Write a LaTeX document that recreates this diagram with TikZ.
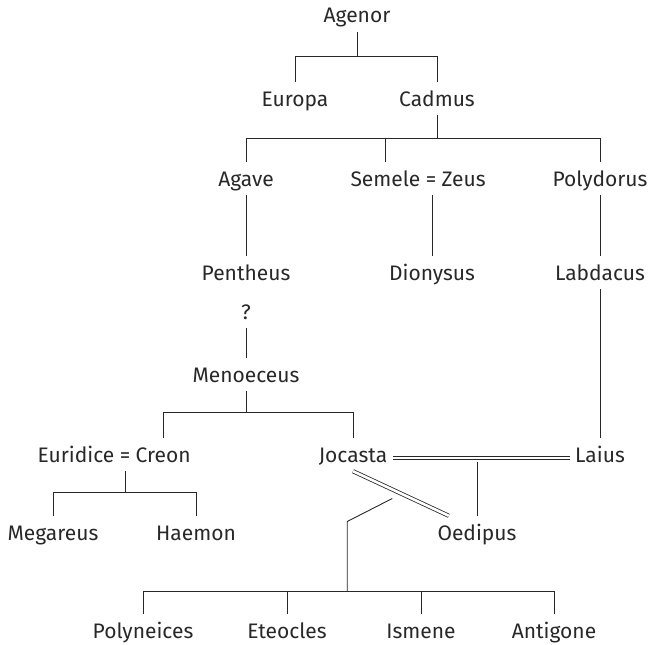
\documentclass[tikz,border=0pt]{standalone}
\usepackage{fontspec}
\setmainfont{Fira Sans}
\usetikzlibrary{positioning,calc}
\definecolor{treeline}{RGB}{40,40,40}

\begin{document}
\begin{tikzpicture}[x=1pt,y=-1pt,
    person/.style={anchor=base, text height=15pt, text depth=0pt, inner xsep=2.5pt, inner ysep=9pt,
        text=treeline, font=\fontsize{21}{25}\selectfont},
    link/.style={draw=treeline, line width=0.9pt},
    marriage/.style={draw=treeline, line width=0.8pt, double, double distance=2.6pt}]
    \useasboundingbox (0,0) rectangle (649,645);

    % generations
    \node[person] (agenor) at (357,23) {Agenor};
    \node[person] (europa) at (295,106) {Europa};
    \node[person] (cadmus) at (437,106) {Cadmus};

    \node[person] (agave) at (246,186) {Agave};
    \node[person] (eqsz) at (431,186) {=};
    \node[person, left=0pt of eqsz] (semele) {Semele};
    \node[person, right=0pt of eqsz] (zeus) {Zeus};
    \node[person] (polydorus) at (600,186) {Polydorus};

    \node[person] (pentheus) at (246,280) {Pentheus};
    \node[person] (dionysus) at (432,280) {Dionysus};
    \node[person] (labdacus) at (600,280) {Labdacus};
    \node[person] (q) at (246,319) {?};
    \node[person] (menoeceus) at (246,382) {Menoeceus};

    \node[person] (eqec) at (125,462) {=};
    \node[person, left=0pt of eqec] (euridice) {Euridice};
    \node[person, right=0pt of eqec] (creon) {Creon};
    \node[person] (jocasta) at (353,462) {Jocasta};
    \node[person] (laius) at (600,462) {Laius};

    \node[person] (megareus) at (53,540) {Megareus};
    \node[person] (haemon) at (196,540) {Haemon};
    \node[person] (oedipus) at (477,540) {Oedipus};

    \node[person] (polyneices) at (143,638) {Polyneices};
    \node[person] (eteocles) at (287,638) {Eteocles};
    \node[person] (ismene) at (421,638) {Ismene};
    \node[person] (antigone) at (554,638) {Antigone};

    % descent lines
    \draw[link] (agenor.south) -- ++(0,24) coordinate (agenorbar) -| (europa.north);
    \draw[link] (agenorbar) -| (cadmus.north);

    \draw[link] (cadmus.south) -- ++(0,23) coordinate (cadmusbar) -| (agave.north);
    \draw[link] (cadmusbar) -| (semele.north);
    \draw[link] (cadmusbar) -| (polydorus.north);

    \draw[link] (agave.south) -- (pentheus.north);
    \draw[link] (dionysus.north |- eqsz.south) -- (dionysus.north);
    \draw[link] (polydorus.south) -- (labdacus.north);
    \draw[link] (labdacus.south) -- (laius.north);
    \draw[link] (q.south) -- (menoeceus.north);

    \draw[link] (menoeceus.south) -- ++(0,21) coordinate (menoeceusbar) -| (creon.north);
    \draw[link] (menoeceusbar) -| (jocasta.north);

    \draw[link] (eqec.south) -- ++(0,21) coordinate (creonbar) -| (megareus.north);
    \draw[link] (creonbar) -| (haemon.north);

    % Jocasta's marriages
    \draw[marriage, shorten <=3pt, shorten >=2pt] ([yshift=4pt]jocasta.base east) -- ([yshift=4pt]laius.base west);
    \draw[link] (oedipus.north |- jocasta.base) -- (oedipus.north);
    \draw[marriage] (jocasta.south) -- ([xshift=14pt]oedipus.north west);
    \coordinate (jmid) at ($(jocasta.south)!0.41!([xshift=14pt]oedipus.north west)$);
    \coordinate (kids) at ($(jmid)+(-45,32)$);

    \draw[link] ($(jmid)+(0,9)$) -- (kids) -- ++(0,70) coordinate (kidsbar);
    \draw[link] (polyneices.north) |- (kidsbar) -| (antigone.north);
    \draw[link] (eteocles.north) -- (eteocles.north |- kidsbar);
    \draw[link] (ismene.north) -- (ismene.north |- kidsbar);
\end{tikzpicture}
\end{document}
